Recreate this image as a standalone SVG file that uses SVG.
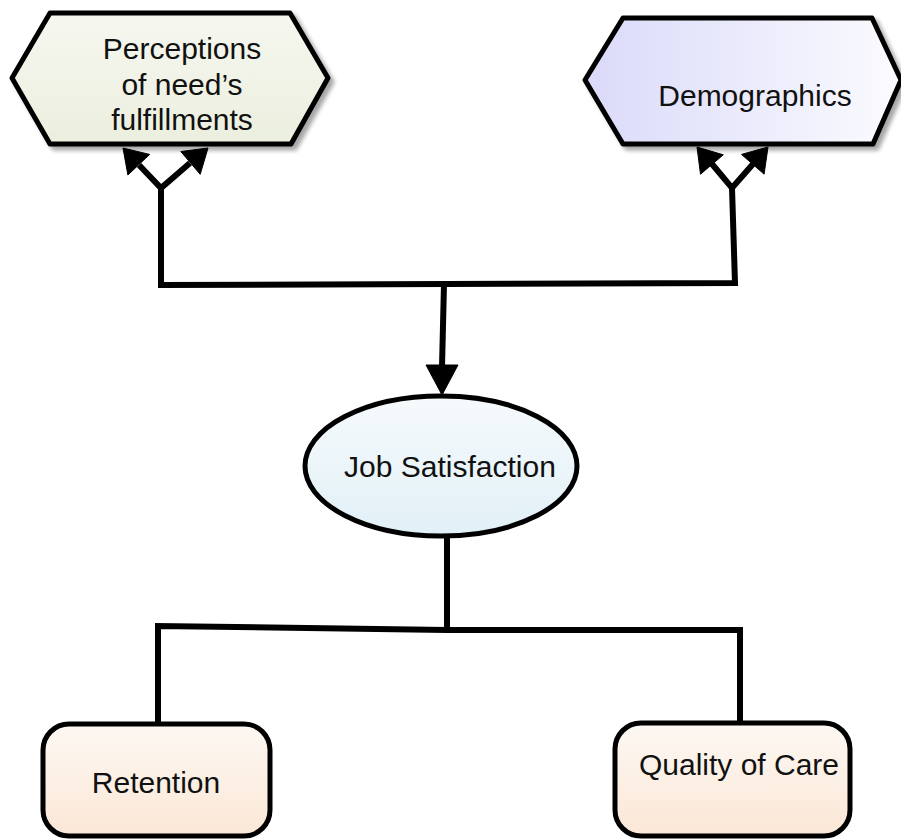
<svg xmlns="http://www.w3.org/2000/svg" width="901" height="839" viewBox="0 0 901 839">
<defs>
<linearGradient id="gGreen" x1="0" y1="0" x2="0" y2="1"><stop offset="0" stop-color="#f6f7f0"/><stop offset="1" stop-color="#ebefde"/></linearGradient>
<linearGradient id="gPurple" x1="0" y1="0" x2="1" y2="0"><stop offset="0" stop-color="#dadaf9"/><stop offset="1" stop-color="#fbfbff"/></linearGradient>
<linearGradient id="gBlue" x1="0" y1="0" x2="0" y2="1"><stop offset="0" stop-color="#f6fafc"/><stop offset="1" stop-color="#e1f0f7"/></linearGradient>
<linearGradient id="gPeach" x1="0" y1="0" x2="0" y2="1"><stop offset="0" stop-color="#fdf8f3"/><stop offset="1" stop-color="#fbe7d6"/></linearGradient>
<filter id="sh" x="-10%" y="-10%" width="130%" height="130%"><feGaussianBlur in="SourceAlpha" stdDeviation="2"/><feOffset dx="4" dy="4"/><feComponentTransfer><feFuncA type="linear" slope="0.35"/></feComponentTransfer><feMerge><feMergeNode/><feMergeNode in="SourceGraphic"/></feMerge></filter>
</defs>
<style>
.shape{stroke:#000;stroke-width:5;stroke-linejoin:round}
.lbl{font-family:"Liberation Sans",Arial,sans-serif;font-size:30px;fill:#111;text-anchor:middle}
.con{fill:none;stroke:#000;stroke-width:6}
.ah{fill:#000;stroke:#000;stroke-width:1;stroke-linejoin:miter}
</style>
<g id="perceptions">
<polygon class="shape" filter="url(#sh)" fill="url(#gGreen)" points="50,13 290,13 328,78 291,144 50,144 12,78"/>
<text class="lbl" x="182" y="59">Perceptions</text>
<text class="lbl" x="182" y="95">of need’s</text>
<text class="lbl" x="182" y="130">fulfillments</text>
</g>
<g id="demographics">
<polygon class="shape" filter="url(#sh)" fill="url(#gPurple)" points="623,18 872,18 901,80 873,144 623,144 585,80"/>
<text class="lbl" x="755" y="106">Demographics</text>
</g>
<g id="job-satisfaction">
<ellipse class="shape" cx="441" cy="466" rx="136" ry="70" fill="url(#gBlue)"/>
<text class="lbl" x="450" y="477">Job Satisfaction</text>
</g>
<g id="retention">
<rect class="shape" x="43" y="724" width="227" height="112" rx="26" fill="url(#gPeach)"/>
<text class="lbl" x="156" y="793">Retention</text>
</g>
<g id="quality-of-care">
<rect class="shape" x="615" y="723" width="235" height="113" rx="26" fill="url(#gPeach)"/>
<text class="lbl" x="739" y="775">Quality of Care</text>
</g>
<g id="connectors">
<polyline class="con" points="161,188 161,285 735,283 732,188"/>
<polyline class="con" points="139,165 161,188 190,163"/>
<polyline class="con" points="712,164 732,188 753,164"/>
<polygon class="ah" points="123,148 149.7,154.4 127.9,175"/>
<polygon class="ah" points="208,148 180.8,151.5 200.2,174.3"/>
<polygon class="ah" points="697,147 723.3,154.8 700.5,174.2"/>
<polygon class="ah" points="768,147 741.5,154.4 764.1,174.2"/>
<line class="con" x1="444" y1="284" x2="442" y2="367"/>
<polygon class="ah" points="426,365 458,365 442,395"/>
<polyline class="con" points="447,537 447,630"/>
<polyline class="con" points="158,724 158,626 447,630 740,630 740,723"/>
</g>
</svg>
